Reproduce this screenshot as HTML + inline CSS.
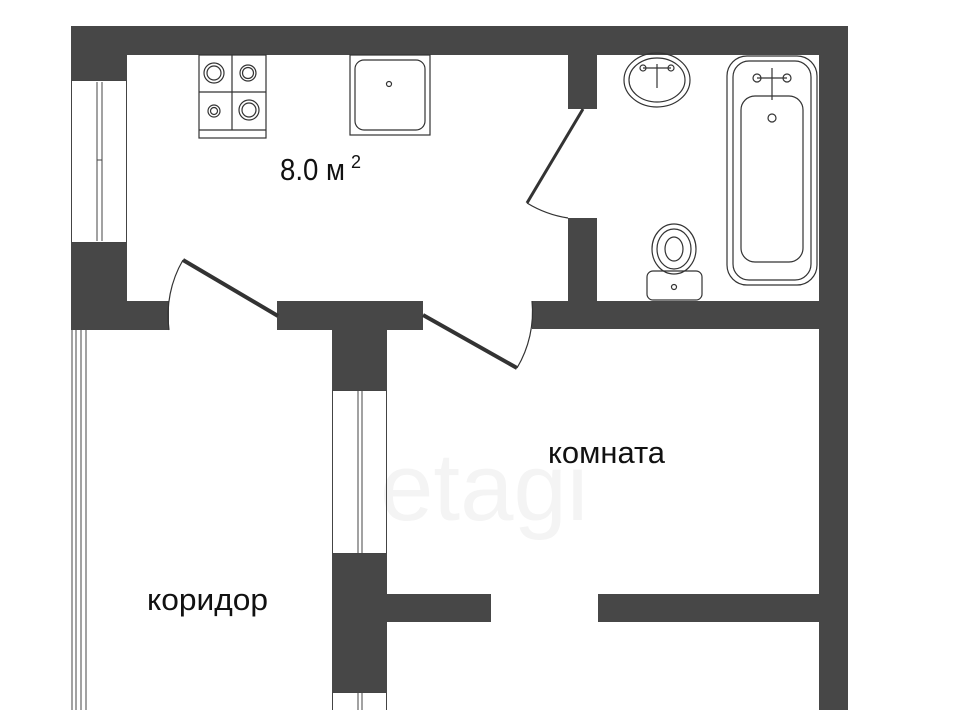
<!DOCTYPE html>
<html><head><meta charset="utf-8"><style>
html,body{margin:0;padding:0;background:#fff;width:960px;height:710px;overflow:hidden}
svg{display:block}
text{font-family:"Liberation Sans","DejaVu Sans",sans-serif;fill:#111}
</style></head><body>
<svg width="960" height="710" viewBox="0 0 960 710" xmlns="http://www.w3.org/2000/svg">
<rect width="960" height="710" fill="#fff"/>
<text x="380" y="520" font-size="96" style="fill:#f4f4f4">etagi</text>
<g fill="#474747">
<rect x="71" y="26" width="777" height="29"/>
<rect x="71" y="26" width="56" height="54"/>
<rect x="71" y="242" width="56" height="88"/>
<rect x="71" y="301" width="98" height="29"/>
<rect x="277" y="301" width="146" height="29"/>
<rect x="532" y="301" width="316" height="28"/>
<rect x="819" y="26" width="29" height="684"/>
<rect x="568" y="55" width="29" height="54"/>
<rect x="568" y="218" width="29" height="90"/>
<rect x="332" y="329" width="55" height="61"/>
<rect x="332" y="553" width="55" height="139"/>
<rect x="387" y="594" width="104" height="28"/>
<rect x="598" y="594" width="222" height="28"/>
</g>
<g stroke="#444" fill="none" stroke-width="1">
<rect x="71.5" y="80.5" width="55" height="162"/>
<line x1="97" y1="82" x2="97" y2="241"/><line x1="102" y1="82" x2="102" y2="241"/>
<line x1="97" y1="160" x2="102" y2="160"/>
<line x1="72" y1="330" x2="72" y2="710"/><line x1="76" y1="330" x2="76" y2="710"/>
<line x1="81" y1="330" x2="81" y2="710"/><line x1="86" y1="330" x2="86" y2="710"/>
<rect x="332.5" y="390.5" width="54" height="163"/>
<line x1="358" y1="391" x2="358" y2="553"/><line x1="362" y1="391" x2="362" y2="553"/>
<rect x="332.5" y="692.5" width="54" height="20"/>
<line x1="358" y1="692" x2="358" y2="710"/><line x1="362" y1="692" x2="362" y2="710"/>
</g>
<g stroke="#333" fill="none">
<line x1="183" y1="260" x2="278" y2="316" stroke-width="4"/>
<path d="M183 260 A110 110 0 0 0 169 330" stroke-width="1.2"/>
<line x1="423" y1="315" x2="517" y2="368" stroke-width="4"/>
<path d="M517 368 A110 110 0 0 0 532 301" stroke-width="1.2"/>
<line x1="583" y1="109" x2="527" y2="203" stroke-width="3"/>
<path d="M527 203 A110 110 0 0 0 568 218" stroke-width="1.2"/>
</g>
<g stroke="#333" fill="none" stroke-width="1.2">
<rect x="199" y="55" width="67" height="83"/>
<line x1="199" y1="130" x2="266" y2="130"/>
<line x1="232" y1="55" x2="232" y2="130"/>
<line x1="199" y1="92" x2="266" y2="92"/>
<circle cx="214" cy="73" r="10"/><circle cx="214" cy="73" r="7"/>
<circle cx="248" cy="73" r="8"/><circle cx="248" cy="73" r="5.5"/>
<circle cx="214" cy="111" r="6"/><circle cx="214" cy="111" r="3.5"/>
<circle cx="249" cy="110" r="10"/><circle cx="249" cy="110" r="7"/>
<rect x="350" y="55" width="80" height="80"/>
<rect x="355" y="60" width="70" height="70" rx="9"/>
<circle cx="389" cy="84" r="2.5"/>
<ellipse cx="657" cy="80" rx="33" ry="27"/><ellipse cx="657" cy="80" rx="28" ry="22"/>
<line x1="643" y1="68" x2="671" y2="68"/><line x1="657" y1="64" x2="657" y2="88"/>
<circle cx="643" cy="68" r="3"/><circle cx="671" cy="68" r="3"/>
<rect x="727" y="56" width="90" height="229" rx="20"/>
<rect x="733" y="61" width="78" height="219" rx="16"/>
<rect x="741" y="96" width="62" height="166" rx="14"/>
<line x1="757" y1="78" x2="787" y2="78"/><line x1="772" y1="68" x2="772" y2="100"/>
<circle cx="757" cy="78" r="4"/><circle cx="787" cy="78" r="4"/>
<circle cx="772" cy="118" r="4"/>
<ellipse cx="674" cy="249" rx="22" ry="25"/><ellipse cx="674" cy="249" rx="17" ry="20"/>
<ellipse cx="674" cy="249" rx="9" ry="12"/>
<rect x="647" y="271" width="55" height="29" rx="6"/>
<circle cx="674" cy="287" r="2.5"/>
</g>
<text x="280" y="180" font-size="31" textLength="65" lengthAdjust="spacingAndGlyphs">8.0 м</text>
<text x="351" y="168" font-size="18">2</text>
<text x="548" y="463" font-size="31" textLength="117" lengthAdjust="spacingAndGlyphs">комната</text>
<text x="147" y="610" font-size="31" textLength="121" lengthAdjust="spacingAndGlyphs">коридор</text>
</svg>
</body></html>
